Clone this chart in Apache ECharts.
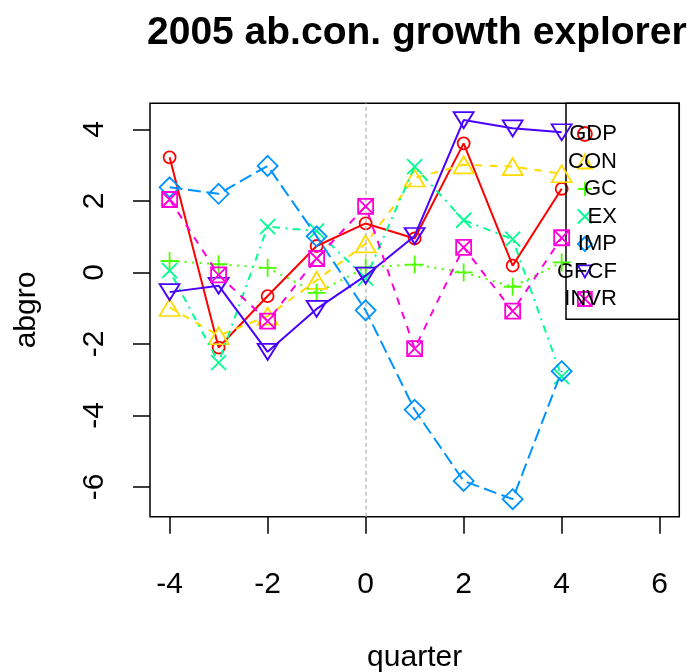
<!DOCTYPE html>
<html>
<head>
<meta charset="utf-8">
<script src="https://cdn.jsdelivr.net/npm/echarts@6/dist/echarts.min.js"></script>
<style>html, body { margin: 0; padding: 0; background: #fff; }</style>
</head>
<body>
<div id="ch" style="width: 687px; height: 672px;"></div>

<script>
// values, one list per series
var quarters = [-4, -3, -2, -1, 0, 1, 2, 3, 4]
var seriesNames = ['GDP', 'CON', 'GC', 'EX', 'IMP', 'GFCF', 'INVR']
var gdp  = [3.22, -2.10, -0.66, 0.74, 1.37, 0.95, 3.61, 0.19, 2.34]
var con  = [-0.98, -1.77, -1.22, -0.22, 0.80, 2.64, 3.01, 2.96, 2.76]
var gc   = [0.32, 0.23, 0.13, -0.57, 0.14, 0.22, 0.00, -0.40, 0.28]
var ex   = [0.05, -2.52, 1.28, 1.16, -0.16, 2.96, 1.46, 0.93, -2.91]
var imp  = [2.38, 2.20, 2.98, 1.01, -1.06, -3.84, -5.83, -6.34, -2.76]
var gfcf = [-0.55, -0.37, -2.22, -1.02, -0.09, 1.02, 4.26, 4.03, 3.92]
var invr = [2.04, -0.07, -1.36, 0.39, 1.85, -2.13, 0.70, -1.08, 0.97]
var xTicks = [-4, -2, 0, 2, 4, 6]
var yTicks = [-6, -4, -2, 0, 2, 4]

var allValues = [gdp, con, gc, ex, imp, gfcf, invr]
var colors = ['#FF0000', '#FFDB00', '#49FF00', '#00FF92', '#0092FF', '#4900FF', '#FF00DB']
var symbols = [
    'circle',
    'triangle',
    'path://M5,0L5,10M0,5L10,5',
    'path://M0,0L10,10M10,0L0,10',
    'diamond',
    'path://M0,0L10,0L5,8.66Z',
    'path://M0,0L10,0L10,10L0,10ZM0,0L10,10M10,0L0,10'
]
var symbolSizes = [12, [20, 17], 18, 15, 20, [20, 16], 15]
// R lty 1..5 then recycled
var dashes = ['solid', [7.5, 7.5], [2, 5.5], [2, 5.5, 7.5, 5.5], [13, 5.5], 'solid', [7.5, 7.5]]

var font = 'Liberation Sans, Arial, Helvetica, sans-serif'

var series = seriesNames.map(function(name, i) {
    var s = {
        name: name,
        type: 'line',
        data: quarters.map(function(q, j) {
            return [q, allValues[i][j]]
        }),
        symbol: symbols[i],
        symbolSize: symbolSizes[i],
        showAllSymbol: true,
        itemStyle: {
            color: 'rgba(0,0,0,0)',
            borderColor: colors[i],
            borderWidth: 1.8
        },
        lineStyle: {
            color: colors[i],
            width: 2,
            type: dashes[i],
            cap: 'butt'
        },
        emphasis: { disabled: true },
        z: 3 + i
    }
    if (i === 0) {
        s.markLine = {
            silent: true,
            symbol: 'none',
            label: { show: false },
            lineStyle: { color: '#BEBEBE', type: [4, 3], width: 1.5 },
            data: [{ xAxis: 0 }]
        }
    }
    return s
})

var legendData = seriesNames.map(function(name, i) {
    return {
        name: name,
        icon: symbols[i],
        itemStyle: {
            color: 'rgba(0,0,0,0)',
            borderColor: colors[i],
            borderWidth: 1.8
        }
    }
})

var chartInst = echarts.init(document.getElementById('ch'))
chartInst.setOption({
    animation: false,
    backgroundColor: '#fff',
    title: {
        text: '2005 ab.con. growth explorer',
        left: 147,
        top: 14,
        padding: 0,
        textStyle: { fontFamily: font, fontSize: 39, fontWeight: 'bold', color: '#000' }
    },
    legend: {
        orient: 'vertical',
        left: 566,
        top: 103.3,
        // labels hang left over the symbols, as in the R legend
        padding: [19.7, 62.3, 9.3, -9],
        itemGap: 5.5,
        itemWidth: 14,
        itemHeight: 14,
        borderColor: '#000',
        borderWidth: 1.5,
        selectedMode: false,
        data: legendData,
        formatter: function(name) {
            return '{t|' + name + '}'
        },
        textStyle: {
            rich: {
                t: { width: 20, align: 'right', fontSize: 22, lineHeight: 22, fontFamily: font, color: '#000' }
            }
        }
    },
    grid: {
        left: 150,
        top: 103.3,
        right: 7.7,
        bottom: 155.3,
        outerBoundsMode: 'none',
        show: true,
        borderColor: '#000',
        borderWidth: 1.5,
        backgroundColor: 'transparent'
    },
    xAxis: {
        type: 'value',
        min: -4.4,
        max: 6.4,
        axisLine: { show: false, onZero: false },
        splitLine: { show: false },
        axisTick: { show: true, customValues: xTicks, length: 17, lineStyle: { color: '#000', width: 1.5 } },
        axisLabel: { customValues: xTicks, fontSize: 30, margin: 53, color: '#000', fontFamily: font },
        name: 'quarter',
        nameLocation: 'middle',
        nameGap: 126,
        nameTextStyle: { fontSize: 30, lineHeight: 30, color: '#000', fontFamily: font }
    },
    yAxis: {
        type: 'value',
        min: -6.83,
        max: 4.73,
        axisLine: { show: false, onZero: false },
        splitLine: { show: false },
        axisTick: { show: true, customValues: yTicks, length: 17, lineStyle: { color: '#000', width: 1.5 } },
        axisLabel: { customValues: yTicks, rotate: 90, fontSize: 30, lineHeight: 30, margin: 40, color: '#000', fontFamily: font },
        name: 'abgro',
        nameLocation: 'middle',
        nameGap: 108,
        nameTextStyle: { fontSize: 30, lineHeight: 30, color: '#000', fontFamily: font }
    },
    series: series
})
</script>
</body>
</html>
